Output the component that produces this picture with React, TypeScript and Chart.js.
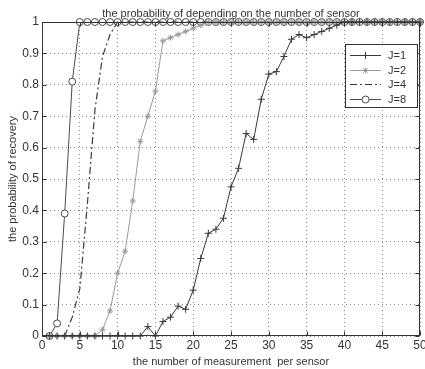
import { useEffect, useRef } from 'react';
import { Chart, registerables } from 'chart.js';
import { drawPoint } from 'chart.js/helpers';

Chart.register(...registerables);

const xs = [1, 2, 3, 4, 5, 6, 7, 8, 9, 10, 11, 12, 13, 14, 15, 16, 17, 18, 19, 20, 21, 22, 23, 24, 25, 26, 27, 28, 29, 30, 31, 32, 33, 34, 35, 36, 37, 38, 39, 40, 41, 42, 43, 44, 45, 46, 47, 48, 49, 50];

const j1 = [0, 0, 0, 0, 0, 0, 0, 0, 0, 0, 0, 0, 0, 0.03, 0, 0.046, 0.06, 0.095, 0.085, 0.146, 0.247, 0.327, 0.34, 0.375, 0.475, 0.534, 0.645, 0.626, 0.754, 0.834, 0.842, 0.89, 0.945, 0.96, 0.95, 0.96, 0.97, 0.98, 0.99, 1, 1, 1, 1, 1, 1, 1, 1, 1, 1, 1];
const j2 = [0, 0, 0, 0, 0, 0, 0, 0.02, 0.08, 0.2, 0.27, 0.43, 0.62, 0.7, 0.78, 0.94, 0.95, 0.96, 0.97, 0.98, 0.99, 1, 1, 1, 1, 1, 1, 1, 1, 1, 1, 1, 1, 1, 1, 1, 1, 1, 1, 1, 1, 1, 1, 1, 1, 1, 1, 1, 1, 1];
const j4 = [0, 0, 0, 0.06, 0.15, 0.42, 0.72, 0.89, 0.96, 1, 1, 1, 1, 1, 1, 1, 1, 1, 1, 1, 1, 1, 1, 1, 1, 1, 1, 1, 1, 1, 1, 1, 1, 1, 1, 1, 1, 1, 1, 1, 1, 1, 1, 1, 1, 1, 1, 1, 1, 1];
const j8 = [0, 0.04, 0.39, 0.81, 1, 1, 1, 1, 1, 1, 1, 1, 1, 1, 1, 1, 1, 1, 1, 1, 1, 1, 1, 1, 1, 1, 1, 1, 1, 1, 1, 1, 1, 1, 1, 1, 1, 1, 1, 1, 1, 1, 1, 1, 1, 1, 1, 1, 1, 1];

const seriesLabels = ['J=1', 'J=2', 'J=4', 'J=8'];
const xTickLabels = ['0', '5', '10', '15', '20', '25', '30', '35', '40', '45', '50'];
const yTickLabels = ['0', '0.1', '0.2', '0.3', '0.4', '0.5', '0.6', '0.7', '0.8', '0.9', '1'];

const titleText = 'the probability of depending on the number of sensor';
const xTitle = 'the number of measurement  per sensor';
const yTitle = 'the probability of recovery';

const FONT = "'Liberation Sans', Arial, sans-serif";

const pts = (ys: number[]) => xs.map((x, i) => ({ x, y: ys[i] }));

const framePlugin = {
  id: 'matlabFrame',
  afterDatasetsDraw(chart: any) {
    const { ctx, chartArea: a, scales } = chart;
    ctx.save();
    ctx.setLineDash([]);
    ctx.strokeStyle = '#333';
    ctx.lineWidth = 1;
    const l = Math.round(a.left) + 0.5;
    const r = Math.round(a.right) - 0.5;
    const t = Math.round(a.top) + 0.5;
    const b = Math.round(a.bottom) - 0.5;
    ctx.strokeRect(l, t, r - l, b - t);
    const tl = 4;
    ctx.beginPath();
    scales.x.ticks.forEach((tk: any) => {
      const px = Math.round(scales.x.getPixelForValue(tk.value)) + 0.5;
      ctx.moveTo(px, b); ctx.lineTo(px, b - tl);
      ctx.moveTo(px, t); ctx.lineTo(px, t + tl);
    });
    scales.y.ticks.forEach((tk: any) => {
      const py = Math.round(scales.y.getPixelForValue(tk.value)) + 0.5;
      ctx.moveTo(l, py); ctx.lineTo(l + tl, py);
      ctx.moveTo(r, py); ctx.lineTo(r - tl, py);
    });
    ctx.stroke();
    ctx.restore();
  },
};

const legendPlugin = {
  id: 'matlabLegend',
  afterDraw(chart: any) {
    const { ctx, chartArea } = chart;
    const w = 72;
    const h = 63;
    const right = Math.round(chartArea.right) - 3;
    const left = right - w;
    const top = Math.round(chartArea.top) + 22;
    ctx.save();
    ctx.fillStyle = '#fff';
    ctx.fillRect(left, top, w, h);
    ctx.strokeStyle = '#333';
    ctx.lineWidth = 1;
    ctx.setLineDash([]);
    ctx.strokeRect(left + 0.5, top + 0.5, w, h);
    chart.data.datasets.forEach((ds: any, i: number) => {
      const y = Math.round(top + 11 + i * 14.5) + 0.5;
      ctx.setLineDash(ds.borderDash || []);
      ctx.strokeStyle = ds.borderColor;
      ctx.lineWidth = ds.borderWidth;
      ctx.beginPath();
      ctx.moveTo(left + 5, y);
      ctx.lineTo(left + 36, y);
      ctx.stroke();
      ctx.setLineDash([]);
      if (ds.pointRadius > 0) {
        ctx.strokeStyle = ds.pointBorderColor;
        ctx.fillStyle = ds.pointBackgroundColor;
        ctx.lineWidth = 1;
        drawPoint(ctx, { pointStyle: ds.pointStyle, radius: ds.pointRadius, borderWidth: 1, rotation: 0 } as any, left + 20.5, y);
      }
      ctx.fillStyle = '#333';
      ctx.font = `11px ${FONT}`;
      ctx.textBaseline = 'middle';
      ctx.textAlign = 'left';
      ctx.fillText(ds.label, left + 43, y);
    });
    ctx.restore();
  },
};

export default function App() {
  const ref = useRef<HTMLCanvasElement | null>(null);
  useEffect(() => {
    if (!ref.current) return;
    Chart.defaults.font.family = FONT;
    const chart = new Chart(ref.current, {
      type: 'line',
      data: {
        datasets: [
          {
            label: seriesLabels[0], data: pts(j1), borderColor: '#3a3a3a', borderWidth: 1,
            pointStyle: 'cross', pointRadius: 3.5, pointBorderColor: '#3a3a3a', pointBackgroundColor: '#3a3a3a', pointBorderWidth: 1,
            clip: false as any,
          },
          {
            label: seriesLabels[1], data: pts(j2), borderColor: '#9a9a9a', borderWidth: 1,
            pointStyle: 'star', pointRadius: 3, pointBorderColor: '#9a9a9a', pointBackgroundColor: '#9a9a9a', pointBorderWidth: 1,
            clip: false as any,
          },
          {
            label: seriesLabels[2], data: pts(j4), borderColor: '#3a3a3a', borderWidth: 1.2, borderDash: [7, 3, 2, 3],
            pointRadius: 0, pointStyle: 'line', pointBorderColor: '#3a3a3a', pointBackgroundColor: '#3a3a3a',
            clip: false as any,
          },
          {
            label: seriesLabels[3], data: pts(j8), borderColor: '#4a4a4a', borderWidth: 1,
            pointStyle: 'circle', pointRadius: 3.5, pointBorderColor: '#4a4a4a', pointBackgroundColor: '#ffffff', pointBorderWidth: 1,
            clip: false as any,
          },
        ],
      },
      options: {
        animation: false,
        responsive: false,
        layout: { padding: { left: 0, right: 3, top: 0, bottom: 0 } },
        elements: { line: { tension: 0 } },
        plugins: {
          legend: { display: false },
          tooltip: { enabled: false },
          title: {
            display: true, text: titleText, color: '#333', fullSize: false,
            font: { size: 11, weight: 'normal', family: FONT, lineHeight: 1.2 },
            padding: { top: 7, bottom: 1.8 },
          },
        },
        scales: {
          x: {
            type: 'linear', min: 0, max: 50,
            afterFit: (s: any) => { s.height = 33; s.paddingLeft = 0; s.paddingRight = 0; },
            ticks: {
              stepSize: 5, autoSkip: false, maxRotation: 0, padding: 2, color: '#333',
              font: { size: 12, family: FONT },
              callback: (_v: any, i: number) => xTickLabels[i],
            },
            grid: { color: '#8a8a8a', lineWidth: 1, drawTicks: false },
            border: { display: false, dash: [1, 3] },
            title: {
              display: true, text: xTitle, color: '#333',
              font: { size: 11, family: FONT, lineHeight: 1.2 }, padding: { top: 0, bottom: 0 },
            },
          },
          y: {
            type: 'linear', min: 0, max: 1,
            afterFit: (s: any) => { s.width = 42; },
            ticks: {
              stepSize: 0.1, autoSkip: false, padding: 3, color: '#333',
              font: { size: 12, family: FONT },
              callback: (_v: any, i: number) => yTickLabels[i],
            },
            grid: { color: '#8a8a8a', lineWidth: 1, drawTicks: false },
            border: { display: false, dash: [1, 3] },
            title: {
              display: true, text: yTitle, color: '#333',
              font: { size: 11, family: FONT, lineHeight: 1.2 }, padding: { top: 6, bottom: 0 },
            },
          },
        },
      },
      plugins: [framePlugin, legendPlugin],
    });
    return () => chart.destroy();
  }, []);
  return (
    <div style={{ position: 'absolute', left: 0, top: 0, width: 425, height: 369, background: '#fff' }}>
      <canvas ref={ref} width={425} height={369} style={{ display: 'block' }} />
    </div>
  );
}
